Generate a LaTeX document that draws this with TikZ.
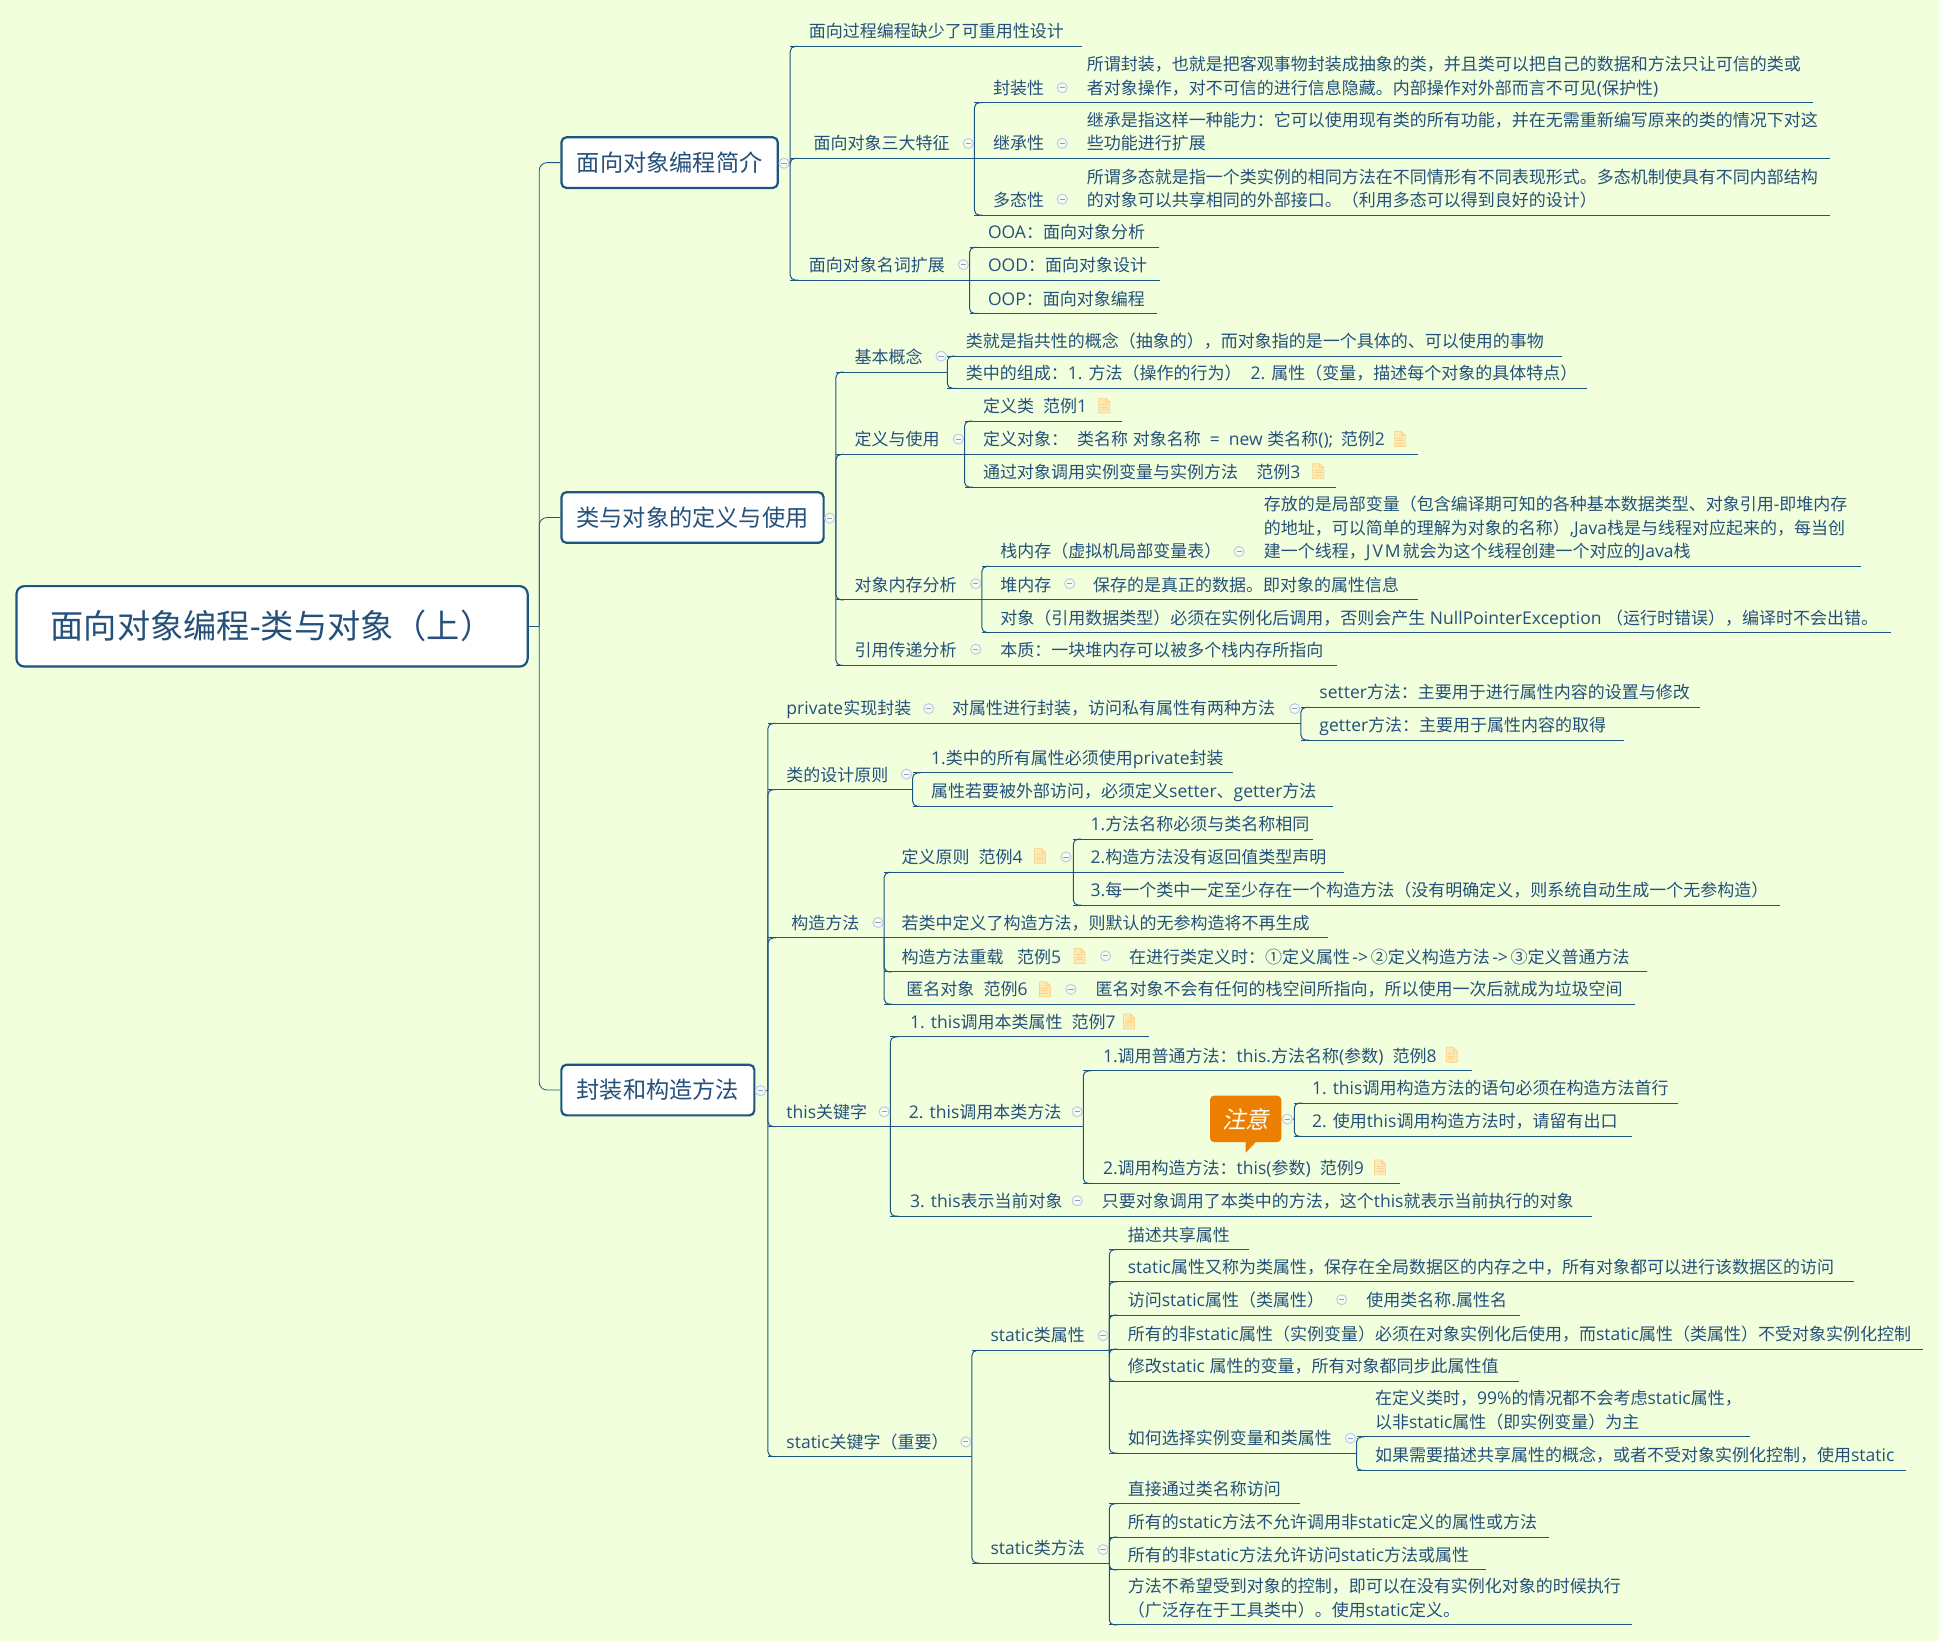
\documentclass[tikz,border=0pt]{standalone}
\usepackage{fontspec}
\setmainfont[Scale=1.03]{Open Sans}
\newfontfamily\latinf[Scale=1.03]{Open Sans}
\newfontfamily\cjkf{Noto Sans CJK SC}
\newfontfamily\noteF[FakeSlant=0.22]{Noto Sans CJK SC}
\newXeTeXintercharclass\cjkclass
\newcount\chcnt
\newcommand\setcjkrange[2]{\chcnt=#1\relax\loop\XeTeXcharclass\chcnt=\cjkclass\ifnum\chcnt<#2\relax\advance\chcnt by 1\repeat}
\setcjkrange{"3000}{"303F}
\setcjkrange{"4E00}{"9FFF}
\setcjkrange{"FF00}{"FFEF}
\setcjkrange{"2460}{"2473}
\XeTeXinterchartoks 0 \cjkclass={\cjkf}
\XeTeXinterchartoks \cjkclass 0={\latinf}
\XeTeXinterchartoks 4095 \cjkclass={\cjkf}
\XeTeXinterchartoks \cjkclass 4095={\latinf}
\XeTeXinterchartokenstate=1
\definecolor{bg}{HTML}{F1FFDC}
\definecolor{ink}{HTML}{24507A}
\definecolor{linec}{HTML}{1D5480}
\definecolor{mkc}{HTML}{C2CCEA}
\definecolor{mkm}{HTML}{8C9CD0}
\definecolor{orangeN}{HTML}{EC7F00}
\definecolor{icf}{HTML}{FEE8B4}
\definecolor{icd}{HTML}{F9D48A}
\newlength\topw
\newlength\topo
\newcounter{mkcount}
\tikzset{
  topic/.style={anchor=south west,inner xsep=0pt,inner ysep=0.7pt,outer sep=0pt,text=ink,font=\fontsize{8.5}{11.8}\selectfont},
  link/.style={draw=linec,line width=0.5pt},
  bracket/.style={link,rounded corners=2.5pt},
  trunk/.style={draw=linec,line width=0.4pt,rounded corners=4pt},
  rootbox/.style={draw=linec,line width=1.1pt,fill=white,rounded corners=4pt,text=ink,inner sep=0pt,font=\fontsize{16.6}{20}\selectfont},
  mainbox/.style={draw=linec,line width=1.1pt,fill=white,rounded corners=2.5pt,text=ink,inner sep=0pt,font=\fontsize{11.6}{15}\selectfont},
  marker/.style={circle,draw=mkc,fill=bg!60!white,line width=0.55pt,inner sep=0pt,minimum size=5pt},
  mkbar/.style={draw=mkm,line width=0.45pt},
  notebox/.style={fill=orangeN,rounded corners=2pt,text=white,inner sep=0pt,font=\fontsize{11.7}{14}\noteF\selectfont},
}
% name, x0, x1, y, text x, text
\newcommand\topic[6]{%
  \pgfmathsetlength\topw{(#3-#2)*0.6183}%
  \pgfmathsetlength\topo{(#5-#2)*0.6183}%
  \node[topic] (#1) at (#2,#4) {\makebox[\topw][l]{\hspace*{\topo}\begin{tabular}[b]{@{}l@{}}#6\end{tabular}}};
  \draw[link] (#1.south west) -- (#1.south east);
}
\newcommand\conn[2]{\draw[bracket] (#1.south east) |- ([xshift=4pt]#2.south west);}
\newcommand\connS[2]{\draw[link] (#1.south east) -- (#2.south west);}
\newcommand\jconn[2]{\draw[bracket] (#1) |- ([xshift=4pt]#2.south west);}
\newcommand\mk[2]{\stepcounter{mkcount}%
  \node[marker] (mk\arabic{mkcount}) at (#1,#2) {};
  \draw[mkbar] ([xshift=-1.3pt]mk\arabic{mkcount}.center) -- ([xshift=1.3pt]mk\arabic{mkcount}.center);}
\newcommand\ic[2]{\begin{scope}[shift={(#1,#2)},x=0.5pt,y=-0.5pt]
  \fill[icf,draw=icd,line width=0.35pt] (-5.5,-7.5) -- (1.5,-7.5) -- (5.5,-3.5) -- (5.5,7.5) -- (-5.5,7.5) -- cycle;
  \draw[icd,line width=0.4pt] (1.5,-7.5) -- (1.5,-3.5) -- (5.5,-3.5);
  \draw[icd,line width=0.5pt] (-3.5,-1) -- (3.5,-1) (-3.5,1.5) -- (3.5,1.5) (-3.5,4) -- (3.5,4);
\end{scope}}
\begin{document}
\begin{tikzpicture}[x=0.6183pt,y=-0.6183pt]
\useasboundingbox (0,0) rectangle (1568,1327);
\fill[bg] (0,0) rectangle (1568,1327);

% root and main branches
\node[rootbox,minimum width=255.6pt,minimum height=40.2pt] (root) at (220,506.5) {面向对象编程-类与对象（上）};
\node[mainbox,minimum width=108.2pt,minimum height=25.3pt] (A) at (541.5,131.5) {面向对象编程简介};
\node[mainbox,minimum width=131.1pt,minimum height=25.3pt] (B) at (560,418.5) {类与对象的定义与使用};
\node[mainbox,minimum width=96.5pt,minimum height=25.3pt] (C) at (532,881.5) {封装和构造方法};
\coordinate (rootj) at (436,506.5);
\draw[link,line width=0.4pt] (root.east) -- (rootj);
\draw[trunk] (rootj) |- (A.west);
\draw[trunk] (rootj) |- (B.west);
\draw[trunk] (rootj) |- (C.west);
\coordinate (Aj) at (639,131.5);
\coordinate (Bj) at (676,418.5);
\coordinate (Cj) at (621,881.5);
\draw[link] (A.east) -- (Aj);
\draw[link] (B.east) -- (Bj);
\draw[link] (C.east) -- (Cj);

% Branch A
\topic{a1}{639}{875}{37.5}{654}{面向过程编程缺少了可重用性设计}
\topic{a2}{639}{788}{128}{658}{面向对象三大特征}
\topic{a3}{639}{784}{226.5}{654}{面向对象名词扩展}
\topic{a21}{788}{864}{83}{803}{封装性}
\topic{a22}{788}{864}{128}{803}{继承性}
\topic{a23}{788}{864}{174}{803}{多态性}
\topic{a211}{864}{1466}{83}{879}{所谓封装，也就是把客观事物封装成抽象的类，并且类可以把自己的数据和方法只让可信的类或\\者对象操作，对不可信的进行信息隐藏。内部操作对外部而言不可见(保护性)}
\topic{a221}{864}{1480}{128}{879}{继承是指这样一种能力：它可以使用现有类的所有功能，并在无需重新编写原来的类的情况下对这\\些功能进行扩展}
\topic{a231}{864}{1480}{174}{879}{所谓多态就是指一个类实例的相同方法在不同情形有不同表现形式。多态机制使具有不同内部结构\\的对象可以共享相同的外部接口。（利用多态可以得到良好的设计）}
\topic{a31}{784}{937}{200}{799}{OOA：面向对象分析}
\topic{a32}{784}{938}{226.5}{799}{OOD：面向对象设计}
\topic{a33}{784}{936}{253.5}{799}{OOP：面向对象编程}
\jconn{Aj}{a1}\jconn{Aj}{a2}\jconn{Aj}{a3}
\conn{a2}{a21}\connS{a2}{a22}\conn{a2}{a23}
\connS{a21}{a211}\connS{a22}{a221}\connS{a23}{a231}
\conn{a3}{a31}\connS{a3}{a32}\conn{a3}{a33}

% Branch B
\topic{b1}{676}{766}{301}{691}{基本概念}
\topic{b11}{766}{1263}{288}{781}{类就是指共性的概念（抽象的），而对象指的是一个具体的、可以使用的事物}
\topic{b12}{766}{1283}{314}{781}{类中的组成：1. 方法（操作的行为） \ 2. 属性（变量，描述每个对象的具体特点）}
\topic{b2}{676}{780}{367.5}{691}{定义与使用}
\topic{b21}{780}{907}{340.5}{795}{定义类 \ 范例1}
\topic{b22}{780}{1147}{367.5}{795}{定义对象： \ 类名称 对象名称 \ = \ new 类名称(); \,范例2}
\topic{b23}{780}{1080}{394}{795}{通过对象调用实例变量与实例方法 \ \ \ 范例3}
\topic{b3}{676}{794}{485}{691}{对象内存分析}
\topic{b31}{794}{1007}{458}{809}{栈内存（虚拟机局部变量表）}
\topic{b311}{1007}{1505}{458}{1022}{存放的是局部变量（包含编译期可知的各种基本数据类型、对象引用-即堆内存\\的地址，可以简单的理解为对象的名称）,Java栈是与线程对应起来的，每当创\\建一个线程，J\kern1pt V\kern1pt M\kern1pt 就会为这个线程创建一个对应的Java栈}
\topic{b32}{794}{870}{485}{809}{堆内存}
\topic{b321}{870}{1147}{485}{884}{保存的是真正的数据。即对象的属性信息}
\topic{b33}{794}{1529}{511.5}{809}{对象（引用数据类型）必须在实例化后调用，否则会产生 NullPointerException （运行时错误），编译时不会出错。}
\topic{b4}{676}{794}{538}{691}{引用传递分析}
\topic{b41}{794}{1081}{538}{809}{本质：一块堆内存可以被多个栈内存所指向}
\jconn{Bj}{b1}\jconn{Bj}{b2}\jconn{Bj}{b3}\jconn{Bj}{b4}
\conn{b1}{b11}\conn{b1}{b12}
\conn{b2}{b21}\connS{b2}{b22}\conn{b2}{b23}
\conn{b3}{b31}\connS{b3}{b32}\conn{b3}{b33}
\connS{b31}{b311}\connS{b32}{b321}\connS{b4}{b41}

% Branch C
\topic{c1}{621}{756}{585}{636}{private实现封装}
\topic{c11}{756}{1052}{585}{770}{对属性进行封装，访问私有属性有两种方法}
\topic{c111}{1052}{1375}{572}{1067}{setter方法：主要用于进行属性内容的设置与修改}
\topic{c112}{1052}{1313}{598.5}{1067}{getter方法：主要用于属性内容的取得}
\topic{c2}{621}{738}{638.5}{636}{类的设计原则}
\topic{c21}{738}{997}{625}{753}{1.类中的所有属性必须使用private封装}
\topic{c22}{738}{1078}{652}{753}{属性若要被外部访问，必须定义setter、getter方法}
\topic{c3}{621}{715}{758.5}{640}{构造方法}
\topic{c31}{715}{868}{705.5}{729}{定义原则 \ 范例4}
\topic{c311}{868}{1062}{678.5}{882}{1.方法名称必须与类名称相同}
\topic{c312}{868}{1087}{705.5}{882}{2.构造方法没有返回值类型声明}
\topic{c313}{868}{1439}{732}{882}{3.每一个类中一定至少存在一个构造方法（没有明确定义，则系统自动生成一个无参构造）}
\topic{c32}{715}{1074}{758.5}{729}{若类中定义了构造方法，则默认的无参构造将不再生成}
\topic{c33}{715}{899}{786}{729}{构造方法重载 \ \ 范例5}
\topic{c331}{899}{1332}{786}{913}{在进行类定义时：①定义属性\kern1.2pt->\kern1.4pt②定义构造方法\kern1.2pt->\kern1.4pt③定义普通方法}
\topic{c34}{715}{872}{812}{733}{匿名对象 \ 范例6}
\topic{c341}{872}{1322}{812}{886}{匿名对象不会有任何的栈空间所指向，所以使用一次后就成为垃圾空间}
\topic{c4}{621}{720}{911}{636}{this关键字}
\topic{c41}{720}{929}{838.5}{736}{1. this调用本类属性 \ 范例7}
\topic{c42}{720}{876}{911}{735}{2. this调用本类方法}
\topic{c421}{876}{1190}{866}{892}{1.调用普通方法：this.方法名称(参数) \ 范例8}
\topic{c422}{876}{1132}{957}{892}{2.调用构造方法：this(参数) \ 范例9}
\topic{c43}{720}{876}{983.5}{736}{3. this表示当前对象}
\topic{c431}{876}{1287}{983.5}{891}{只要对象调用了本类中的方法，这个this就表示当前执行的对象}
\fill[orangeN] (1007.3,920) -- (1007.3,932.2) -- (1017,922) -- cycle;
\node[notebox,minimum width=35.6pt,minimum height=23.2pt] (note) at (1007.3,904.8) {\XeTeXinterchartokenstate=0 注意};
\coordinate (notej) at (1046.6,905);
\topic{cn1}{1046.6}{1357}{892}{1061}{1. this调用构造方法的语句必须在构造方法首行}
\topic{cn2}{1046.6}{1320}{919}{1061}{2. 使用this调用构造方法时，请留有出口}
\draw[link] (note.east) -- (notej);
\jconn{notej}{cn1}\jconn{notej}{cn2}
\topic{c5}{621}{786}{1178}{636}{static关键字（重要）}
\topic{c51}{786}{897}{1092}{801}{static类属性}
\topic{c511}{897}{1010}{1010.5}{912}{描述共享属性}
\topic{c512}{897}{1499}{1036.5}{912}{static属性又称为类属性，保存在全局数据区的内存之中，所有对象都可以进行该数据区的访问}
\topic{c513}{897}{1090}{1063.5}{912}{访问static属性（类属性）}
\topic{c5131}{1090}{1229}{1063.5}{1105}{使用类名称.属性名}
\topic{c514}{897}{1555}{1091}{912}{所有的非static属性（实例变量）必须在对象实例化后使用，而static属性（类属性）不受对象实例化控制}
\topic{c515}{897}{1228}{1117}{912}{修改static 属性的变量，所有对象都同步此属性值}
\topic{c516}{897}{1097}{1175}{912}{如何选择实例变量和类属性}
\topic{c5161}{1097}{1415}{1162}{1112}{在定义类时，99\%的情况都不会考虑static属性，\\以非static属性（即实例变量）为主}
\topic{c5162}{1097}{1541}{1189}{1112}{如果需要描述共享属性的概念，或者不受对象实例化控制，使用static}
\topic{c52}{786}{897}{1264}{801}{static类方法}
\topic{c521}{897}{1051}{1216}{912}{直接通过类名称访问}
\topic{c522}{897}{1253}{1243}{912}{所有的static方法不允许调用非static定义的属性或方法}
\topic{c523}{897}{1202}{1269.5}{912}{所有的非static方法允许访问static方法或属性}
\topic{c524}{897}{1320}{1314}{912}{方法不希望受到对象的控制，即可以在没有实例化对象的时候执行\\（广泛存在于工具类中）。使用static定义。}
\jconn{Cj}{c1}\jconn{Cj}{c2}\jconn{Cj}{c3}\jconn{Cj}{c4}\jconn{Cj}{c5}
\connS{c1}{c11}\conn{c11}{c111}\conn{c11}{c112}
\conn{c2}{c21}\conn{c2}{c22}
\conn{c3}{c31}\connS{c3}{c32}\conn{c3}{c33}\conn{c3}{c34}
\conn{c31}{c311}\connS{c31}{c312}\conn{c31}{c313}
\connS{c33}{c331}\connS{c34}{c341}
\conn{c4}{c41}\connS{c4}{c42}\conn{c4}{c43}
\conn{c42}{c421}\conn{c42}{c422}
\connS{c43}{c431}
\conn{c5}{c51}\conn{c5}{c52}
\conn{c51}{c511}\conn{c51}{c512}\conn{c51}{c513}\conn{c51}{c514}\conn{c51}{c515}\conn{c51}{c516}
\connS{c513}{c5131}
\conn{c516}{c5161}\conn{c516}{c5162}
\conn{c52}{c521}\conn{c52}{c522}\conn{c52}{c523}\conn{c52}{c524}

% collapse markers
\mk{634}{132}\mk{671}{419}\mk{615}{882}
\mk{783}{116}\mk{779}{214}\mk{859}{71}\mk{859}{116}\mk{859}{161}
\mk{761}{288}\mk{775}{355}\mk{789}{472}\mk{789}{525}\mk{1002}{446}\mk{865}{472}
\mk{751}{573}\mk{1047}{573}\mk{733}{626}\mk{710}{746}\mk{862}{693}\mk{894}{773}\mk{866}{800}
\mk{715}{899}\mk{871}{899}\mk{871}{971}\mk{1041}{905}
\mk{781}{1166}\mk{892}{1080}\mk{1085}{1051}\mk{1092}{1163}\mk{892}{1253}

% note icons
\ic{893}{328}\ic{1132}{355}\ic{1066}{381}
\ic{841}{692}\ic{873}{773}\ic{845}{800}
\ic{913}{826}\ic{1174}{853}\ic{1116}{944}
\end{tikzpicture}
\end{document}
